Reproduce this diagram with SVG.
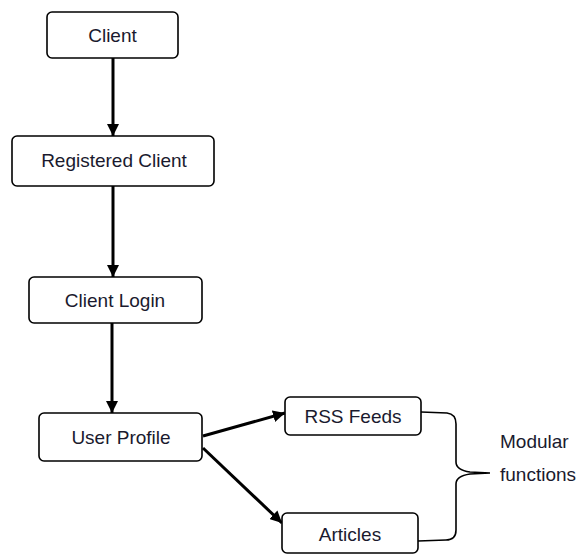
<svg xmlns="http://www.w3.org/2000/svg" width="585" height="554" viewBox="0 0 585 554">
<defs>
<style>
.box{fill:#fff;stroke:#000;stroke-width:1.6}
.lbl{font-family:"Liberation Sans",Arial,sans-serif;font-size:19px;fill:#1a1a2e;text-anchor:middle}
.side{font-family:"Liberation Sans",Arial,sans-serif;font-size:19px;fill:#1a1a2e}
.conn{stroke:#000;stroke-width:3;fill:none}
.brace{stroke:#000;stroke-width:1.6;fill:none}
</style>
<marker id="ah" viewBox="0 0 10 10" refX="10" refY="5" markerWidth="4" markerHeight="4" orient="auto" markerUnits="strokeWidth">
<path d="M0,0 L10,5 L0,10 z" fill="#000"/>
</marker>
</defs>
<rect width="585" height="554" fill="#fff"/>
<g id="connectors">
<line class="conn" x1="113" y1="58" x2="113" y2="136" marker-end="url(#ah)"/>
<line class="conn" x1="113" y1="186" x2="113" y2="277" marker-end="url(#ah)"/>
<line class="conn" x1="112" y1="323" x2="112" y2="413" marker-end="url(#ah)"/>
<line class="conn" x1="203" y1="436" x2="285" y2="413" marker-end="url(#ah)"/>
<line class="conn" x1="203" y1="448" x2="282" y2="523" marker-end="url(#ah)"/>
<path class="brace" d="M421,412 L447,413 Q456,414 456,424 L456,462 Q456,470 470,472 L490,473 M490,473 L470,474 Q456,476 456,484 L456,530 Q456,540 446,540 L418,541"/>
</g>
<g id="client">
<rect class="box" x="47" y="12" width="131" height="46" rx="5"/>
<text class="lbl" x="112.5" y="42">Client</text>
</g>
<g id="registered-client">
<rect class="box" x="12" y="136" width="202" height="50" rx="5"/>
<text class="lbl" x="114" y="167">Registered Client</text>
</g>
<g id="client-login">
<rect class="box" x="29" y="277" width="173" height="46" rx="5"/>
<text class="lbl" x="115" y="307">Client Login</text>
</g>
<g id="user-profile">
<rect class="box" x="39" y="413" width="163" height="48" rx="5"/>
<text class="lbl" x="121" y="444">User Profile</text>
</g>
<g id="rss-feeds">
<rect class="box" x="285" y="397" width="136" height="38" rx="5"/>
<text class="lbl" x="353" y="423">RSS Feeds</text>
</g>
<g id="articles">
<rect class="box" x="282" y="513" width="136" height="40" rx="5"/>
<text class="lbl" x="350" y="541">Articles</text>
</g>
<g id="modular-functions">
<text class="side" x="500" y="448">Modular</text>
<text class="side" x="500" y="481">functions</text>
</g>
</svg>
